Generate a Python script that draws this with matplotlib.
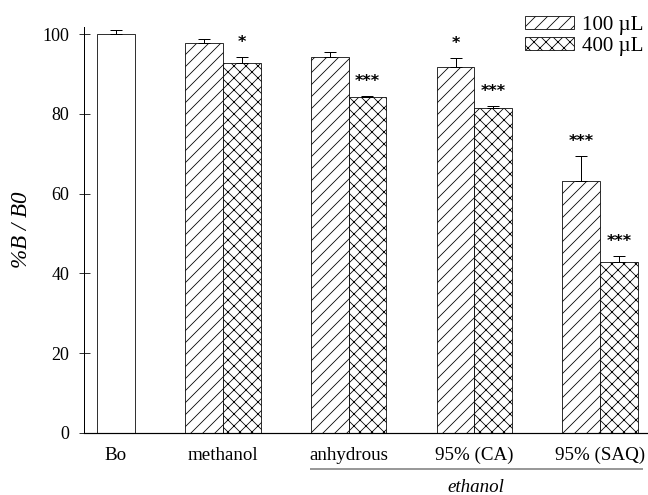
import matplotlib
matplotlib.use("Agg")
import matplotlib.pyplot as plt
import matplotlib.transforms as mtransforms

plt.rcParams["font.family"] = ["Liberation Serif", "DejaVu Serif"]
plt.rcParams["hatch.linewidth"] = 0.8

# Datos
control_label = "Bo"
control_value = 100.0
control_err = 1.1

groups = ["methanol", "anhydrous", "95% (CA)", "95% (SAQ)"]
vals_100 = [97.7, 94.2, 91.8, 63.2]
err_100 = [1.0, 1.4, 2.3, 6.3]
vals_400 = [92.7, 84.1, 81.5, 42.9]
err_400 = [1.5, 0.3, 0.4, 1.4]
stars_100 = ["", "", "*", "***"]
stars_400 = ["*", "***", "***", "***"]
yticks = [0, 20, 40, 60, 80, 100]

# Posiciones
w = 1.0
gap = 4 / 3
x_bo = 0.5
starts = [w + gap + i * (2 * w + gap) for i in range(len(groups))]
x100 = [s + 0.5 * w for s in starts]
x400 = [s + 1.5 * w for s in starts]
centers = [s + w for s in starts]

fig = plt.figure(figsize=(9, 6.875), dpi=72)
ax = fig.add_axes([0.1296, 0.1253, 0.8704, 0.820])

kw = dict(width=w, edgecolor="black", linewidth=0.8,
          error_kw=dict(ecolor="black", elinewidth=1.0, capthick=1.0), capsize=6)
ax.bar([x_bo], [control_value], yerr=[[0], [control_err]], color="white", **kw)
ax.bar(x100, vals_100, yerr=[[0] * 4, err_100], color="white", hatch="//",
       label="100 µL", **kw)
ax.bar(x400, vals_400, yerr=[[0] * 4, err_400], color="white", hatch="xx",
       label="400 µL", **kw)

# Asteriscos
for xs, vs, es, st in [(x100, vals_100, err_100, stars_100),
                       (x400, vals_400, err_400, stars_400)]:
    for x, v, e, s in zip(xs, vs, es, st):
        if s:
            ax.annotate(s, (x, v + e), xytext=(0, 7), textcoords="offset points",
                        ha="center", va="bottom", fontsize=16, fontweight="bold",
                        family="DejaVu Sans")

ax.set_xlim(-0.345, 14.6)
ax.set_ylim(0, 101.75)
ax.set_yticks(yticks)
ax.set_xticks([x_bo] + centers)
ax.set_xticklabels([control_label] + groups)
ax.tick_params(axis="x", length=0, pad=14, labelsize=19)
ax.tick_params(axis="y", direction="inout", length=11, width=0.8, pad=9, labelsize=18)
for side in ["top", "right"]:
    ax.spines[side].set_visible(False)
ax.spines["left"].set_linewidth(1.0)
ax.spines["bottom"].set_linewidth(1.2)

ax.set_ylabel("%B / B0", fontsize=23, style="italic")
ax.yaxis.set_label_coords(-0.092, 0.5)

# Línea de etanol
trans = mtransforms.blended_transform_factory(ax.transData, ax.transAxes)
x_left = starts[1]
x_right = starts[-1] + 2 * w + 0.1
ax.plot([x_left, x_right], [-0.0887, -0.0887], color="#999999", lw=2,
        transform=trans, clip_on=False)
ax.text((x_left + x_right) / 2, -0.135, "ethanol", transform=trans,
        ha="center", va="center", fontsize=19, style="italic")

ax.legend(loc="upper right", bbox_to_anchor=(1.006, 0.985),
          bbox_transform=fig.transFigure, frameon=False, fontsize=21,
          handlelength=2.33, handleheight=0.55, labelspacing=0.1,
          handletextpad=0.4, borderpad=0.2, borderaxespad=0.2)

fig.savefig("out.png", dpi=72)
